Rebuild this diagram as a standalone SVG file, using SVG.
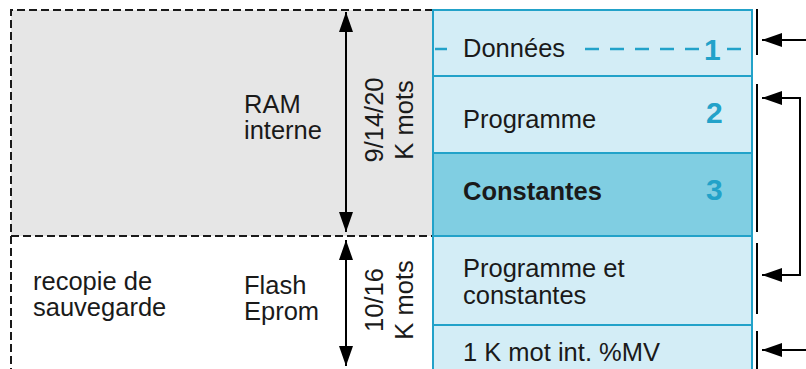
<svg xmlns="http://www.w3.org/2000/svg" width="806" height="369" viewBox="0 0 806 369">
  <defs>
    <marker id="ah" viewBox="0 0 20 14" refX="20" refY="7" markerWidth="20" markerHeight="14" markerUnits="userSpaceOnUse" orient="auto-start-reverse">
      <path d="M0,0 L20,7 L0,14 Z" fill="#000"/>
    </marker>
    <style>
      .t { font-family: "Liberation Sans", Arial, sans-serif; font-size: 25.5px; fill: #1a1a1a; }
      .b { font-weight: bold; }
      .num { font-family: "Liberation Sans", Arial, sans-serif; font-size: 30px; font-weight: bold; fill: #22a2c9; }
      .dash { stroke: #1a1a1a; stroke-width: 2; stroke-dasharray: 8 4; fill: none; }
      .cell { fill: #d3edf6; stroke: #22a2c9; stroke-width: 2; }
      .cell.dark { fill: #80cee2; }
      .br { stroke: #000; stroke-width: 2; fill: none; }
      .ar { stroke: #000; stroke-width: 2; fill: none; marker-end: url(#ah); }
      .dbl { stroke: #000; stroke-width: 2; fill: none; marker-start: url(#ah); marker-end: url(#ah); }
      .bl { stroke: #22a2c9; stroke-width: 2.5; fill: none; }
    </style>
  </defs>

  <rect width="806" height="369" fill="#fff"/>

  <!-- RAM interne area -->
  <g id="ram">
    <rect x="11" y="10" width="422" height="226" fill="#e6e6e6"/>
    <path class="dash" d="M433,10 H11 V369"/>
    <path class="dash" d="M11,236 H433"/>
    <text class="t" x="244" y="113">RAM</text>
    <text class="t" x="244" y="139">interne</text>
    <text class="t" transform="translate(383,120) rotate(-90)" text-anchor="middle">9/14/20</text>
    <text class="t" transform="translate(413,120) rotate(-90)" text-anchor="middle">K mots</text>
  </g>

  <!-- Flash Eprom area -->
  <g id="flash">
    <text class="t" x="33" y="290">recopie de</text>
    <text class="t" x="33" y="316">sauvegarde</text>
    <text class="t" x="244" y="294">Flash</text>
    <text class="t" x="244" y="320">Eprom</text>
    <text class="t" transform="translate(383,300) rotate(-90)" text-anchor="middle">10/16</text>
    <text class="t" transform="translate(413,300) rotate(-90)" text-anchor="middle">K mots</text>
  </g>

  <!-- memory column -->
  <g id="donnees">
    <rect class="cell" x="433" y="10" width="319" height="66"/>
    <path class="bl" d="M435,49 H447"/>
    <text class="t" x="463" y="57">Données</text>
    <path class="bl" d="M585,49 H702" stroke-dasharray="14 11"/>
    <path class="bl" d="M727,49 H741"/>
    <text class="num" x="704" y="60">1</text>
  </g>
  <g id="programme">
    <rect class="cell" x="433" y="76" width="319" height="77"/>
    <text class="t" x="463" y="128">Programme</text>
    <text class="num" x="706" y="123">2</text>
  </g>
  <g id="constantes">
    <rect class="cell dark" x="433" y="153" width="319" height="83"/>
    <text class="t b" x="463" y="200">Constantes</text>
    <text class="num" x="706" y="200">3</text>
  </g>
  <g id="prog-const">
    <rect class="cell" x="433" y="236" width="319" height="89"/>
    <text class="t" x="463" y="277">Programme et</text>
    <text class="t" x="463" y="304">constantes</text>
  </g>
  <g id="mot-mv">
    <rect class="cell" x="433" y="325" width="319" height="50"/>
    <text class="t" x="463" y="361">1 K mot int. %MV</text>
  </g>

  <!-- connectors -->
  <g id="connectors">
    <path class="dbl" d="M346,12 V232"/>
    <path class="dbl" d="M346,240 V366"/>
    <path class="br" d="M757,9 V55"/>
    <path class="br" d="M757,84 V232"/>
    <path class="br" d="M757,243 V314"/>
    <path class="br" d="M757,331 V369"/>
    <path class="ar" d="M806,40 H762"/>
    <path class="ar" d="M806,350 H762"/>
    <path class="dbl" d="M762,98 H800 V275 H762"/>
  </g>
</svg>
